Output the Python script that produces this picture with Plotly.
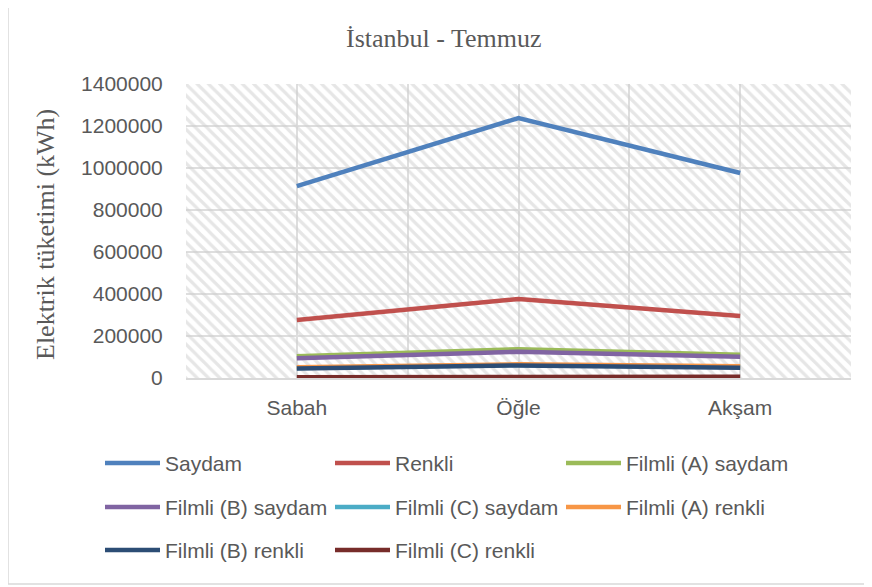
import plotly.graph_objects as go

# data
categories = ["Sabah", "Öğle", "Akşam"]
series_names = ["Saydam", "Renkli", "Filmli (A) saydam", "Filmli (B) saydam",
                "Filmli (C) saydam", "Filmli (A) renkli", "Filmli (B) renkli", "Filmli (C) renkli"]
saydam = [914000, 1238000, 976000]
renkli = [276000, 376000, 295000]
filmli_a_saydam = [104000, 137000, 111000]
filmli_b_saydam = [94000, 125000, 101000]
filmli_c_saydam = [48000, 62000, 52000]
filmli_a_renkli = [51000, 65000, 56000]
filmli_b_renkli = [45000, 60000, 49000]
filmli_c_renkli = [4000, 6000, 6000]
y_ticks = [0, 200000, 400000, 600000, 800000, 1000000, 1200000, 1400000]

values = [saydam, renkli, filmli_a_saydam, filmli_b_saydam,
          filmli_c_saydam, filmli_a_renkli, filmli_b_renkli, filmli_c_renkli]
colors = ["#4F81BD", "#C0504D", "#9BBB59", "#8064A2",
          "#4BACC6", "#F79646", "#2C4D75", "#772C2A"]

# the page puts the figure 8px in from the top-left corner, so work in
# screen pixels and shift by that offset
OFF = 8
W, H = 872 - OFF, 587 - OFF
L, R, T, B = 186 - OFF, 851 - OFF, 84 - OFF, 378 - OFF   # plot area


def px(x):
    return (x - OFF - L) / (R - L)


def py(y):
    return (B - (y - OFF)) / (B - T)


fig = go.Figure()

# hatched plot-area background (own unit axes, drawn below the lines)
fig.add_trace(go.Bar(
    x=[1], y=[1], width=[3], xaxis="x", yaxis="y",
    marker=dict(color="rgba(0,0,0,0)", line=dict(width=0),
                pattern=dict(shape="\\", fgcolor="#cdcdcd", size=8, solidity=0.4)),
    hoverinfo="skip", showlegend=False,
))

for name, vals, col in zip(series_names, values, colors):
    fig.add_trace(go.Scatter(
        x=categories, y=vals, name=name, mode="lines",
        line=dict(color=col, width=4.5),
        xaxis="x2", yaxis="y2", showlegend=False,
    ))

grid = "#dedede"
tick_font = dict(family="Liberation Sans", size=21, color="#595959")
fig.update_layout(
    width=W, height=H,
    margin=dict(l=L, r=W - R, t=T, b=H - B),
    paper_bgcolor="white", plot_bgcolor="white",
    xaxis=dict(range=[-0.5, 2.5], tickvals=[-0.5, 0.5, 1.5, 2.5], showticklabels=False,
               showgrid=True, gridcolor=grid, gridwidth=1.5, zeroline=False, showline=False),
    yaxis=dict(range=[0, 1], visible=False),
    xaxis2=dict(overlaying="x", anchor="y2", type="category", range=[-0.5, 2.5],
                showgrid=True, gridcolor=grid, gridwidth=1.5,
                showline=True, linecolor="#d9d9d9", linewidth=2,
                ticks="outside", ticklen=10, tickcolor="rgba(0,0,0,0)",
                tickfont=tick_font),
    yaxis2=dict(overlaying="y", anchor="x2", side="left", range=[0, 1400000],
                tickvals=y_ticks, tickformat="d",
                showgrid=True, gridcolor=grid, gridwidth=1.5, zeroline=False,
                ticks="outside", ticklen=18, tickcolor="rgba(0,0,0,0)",
                tickfont=tick_font),
    showlegend=False,
)

annotations = [
    dict(text="İstanbul - Temmuz", x=px(444), y=py(38), xref="paper", yref="paper",
         xanchor="center", yanchor="middle", showarrow=False,
         font=dict(family="Liberation Serif", size=26, color="#595959")),
    dict(text="Elektrik tüketimi (kWh)", x=px(45), y=py(235), xref="paper", yref="paper",
         xanchor="center", yanchor="middle", textangle=-90, showarrow=False,
         font=dict(family="Liberation Serif", size=26, color="#595959")),
]
shapes = [
    dict(type="rect", xref="paper", yref="paper", x0=px(8), x1=px(865), y0=py(2), y1=py(584),
         line=dict(color="#d9d9d9", width=1.5), fillcolor="rgba(0,0,0,0)", layer="below"),
]

# legend drawn by hand (three columns, Excel-like)
col_x = [105, 335, 566]
row_y = [463, 507, 550]
for i, (name, col) in enumerate(zip(series_names, colors)):
    r, c = divmod(i, 3)
    x0, y0 = col_x[c], row_y[r]
    shapes.append(dict(type="line", xref="paper", yref="paper",
                       x0=px(x0), x1=px(x0 + 55), y0=py(y0), y1=py(y0),
                       line=dict(color=col, width=4.5)))
    annotations.append(dict(text=name, x=px(x0 + 58), y=py(y0), xref="paper", yref="paper",
                            xanchor="left", yanchor="middle", showarrow=False,
                            font=tick_font))

fig.update_layout(annotations=annotations, shapes=shapes)

fig.write_html("out.html")
